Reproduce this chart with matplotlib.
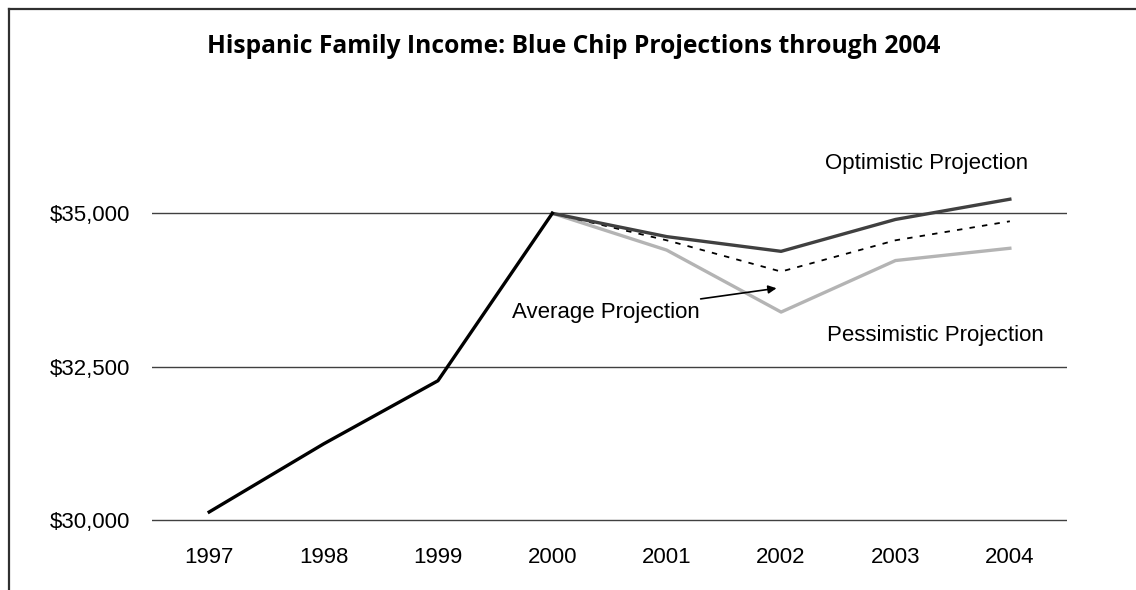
import matplotlib.pyplot as plt
from matplotlib.lines import Line2D

# values
years = ['1997', '1998', '1999', '2000', '2001', '2002', '2003', '2004']
actual = [30130, 31240, 32270, 35000]
optimistic = [35000, 34620, 34380, 34900, 35230]
pessimistic = [35000, 34400, 33390, 34230, 34430]
average = [35000, 34560, 34050, 34560, 34870]
y_ticks = [30000, 32500, 35000]
y_labels = ['$30,000', '$32,500', '$35,000']

plt.rcParams['font.family'] = ['Liberation Sans', 'DejaVu Sans']

fig = plt.figure(figsize=(11.36, 5.9), dpi=100)
# bottom shifted a bit so the $30,000 grid line is not cut by the axes edge
ax = fig.add_axes([0.1338, 0.1135, 0.8055, 0.6289])

x_act = list(range(len(actual)))
x_proj = list(range(3, len(years)))

ax.plot(x_proj, pessimistic, color='#b4b4b4', lw=2.4, zorder=3)
ax.plot(x_proj, average, color='black', lw=1.3, ls=(0, (3, 4)), zorder=4)
ax.plot(x_proj, optimistic, color='#404040', lw=2.4, zorder=5)
ax.plot(x_act, actual, color='black', lw=2.4, zorder=6)

ax.set_xlim(-0.5, len(years) - 0.5)
ax.set_ylim(29950, 36000)
ax.set_xticks(range(len(years)))
ax.set_xticklabels(years, fontsize=16)
ax.set_yticks(y_ticks)
ax.set_yticklabels(y_labels, fontsize=16)
ax.tick_params(axis='x', length=0, pad=17)
ax.tick_params(axis='y', length=0, pad=16)
ax.grid(axis='y', color='#404040', lw=1)
ax.set_axisbelow(True)
for s in ax.spines.values():
    s.set_visible(False)

ax.text(6.27, 35814, 'Optimistic Projection', fontsize=16, ha='center', va='center')
ax.text(6.35, 33013, 'Pessimistic Projection', fontsize=16, ha='center', va='center')
ax.annotate('Average Projection', xy=(4.96, 33778), xytext=(4.29, 33388),
            fontsize=16, ha='right', va='center',
            arrowprops=dict(arrowstyle='-|>', color='black', lw=1.2,
                            mutation_scale=12, shrinkA=0, shrinkB=0))

fig.text(0.505, 0.922, 'Hispanic Family Income: Blue Chip Projections through 2004',
         fontsize=17.7, fontweight='bold', ha='center', va='center',
         family=['Open Sans', 'DejaVu Sans'])

# outer frame: only left and top edges are visible in the reference
fx = 8.5 / 1136
fy = 1 - 8.5 / 590
fig.add_artist(Line2D([fx, fx], [0, fy], transform=fig.transFigure, color='#303030', lw=1.6))
fig.add_artist(Line2D([fx, 1], [fy, fy], transform=fig.transFigure, color='#303030', lw=1.6))

fig.savefig('out.png', dpi=100)
